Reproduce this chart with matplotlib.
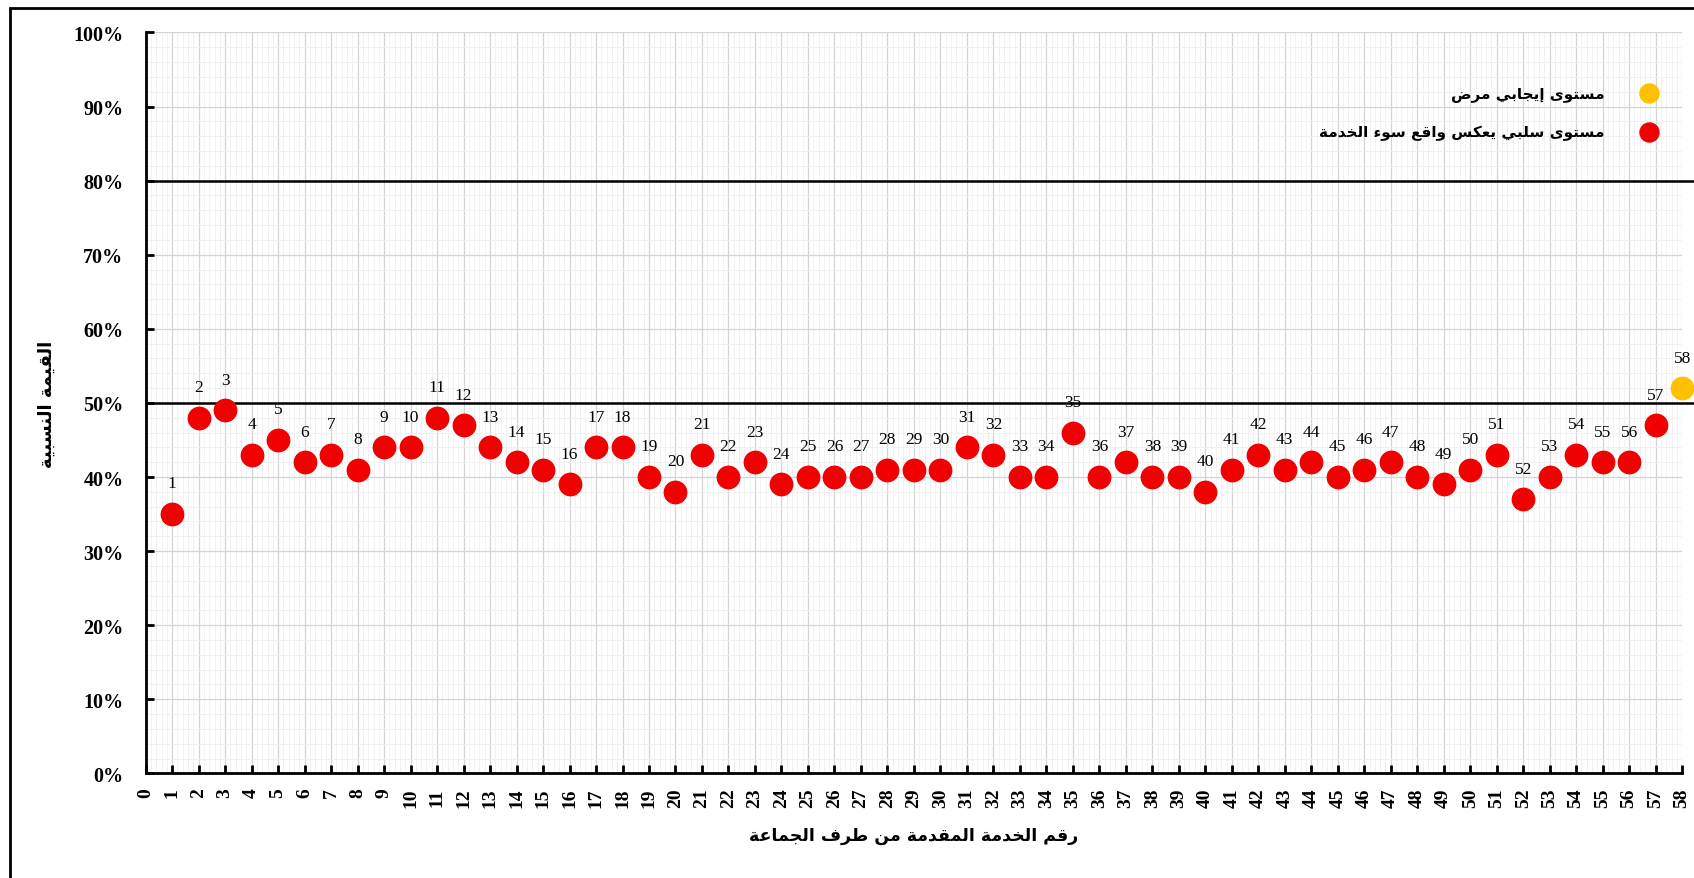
import numpy as np
import matplotlib.pyplot as plt
from matplotlib.ticker import MultipleLocator, PercentFormatter
from matplotlib.patches import Rectangle

# Data
services = list(range(1, 59))
values = [35, 48, 49, 43, 45, 42, 43, 41, 44, 44,
          48, 47, 44, 42, 41, 39, 44, 44, 40, 38,
          43, 40, 42, 39, 40, 40, 40, 41, 41, 41,
          44, 43, 40, 40, 46, 40, 42, 40, 40, 38,
          41, 43, 41, 42, 40, 41, 42, 40, 39, 41,
          43, 37, 40, 43, 42, 42, 47, 52]
positive_ids = [58]
ref_lines = [50, 80]

label_pos = "مستوى إيجابي مرض"
label_neg = "مستوى سلبي يعكس واقع سوء الخدمة"
ylabel = "القيمة النسبية"
xlabel = "رقم الخدمة المقدمة من طرف الجماعة"

# matplotlib has no Arabic shaping: map letters to presentation forms by hand
# (isolated, final, initial, medial); right-joining letters have only 2 forms
FORMS = {
    'ء': ('\uFE80',), 'إ': ('\uFE87', '\uFE88'), 'ا': ('\uFE8D', '\uFE8E'),
    'ب': ('\uFE8F', '\uFE90', '\uFE91', '\uFE92'), 'ة': ('\uFE93', '\uFE94'),
    'ت': ('\uFE95', '\uFE96', '\uFE97', '\uFE98'),
    'ج': ('\uFE9D', '\uFE9E', '\uFE9F', '\uFEA0'),
    'خ': ('\uFEA5', '\uFEA6', '\uFEA7', '\uFEA8'), 'د': ('\uFEA9', '\uFEAA'),
    'ر': ('\uFEAD', '\uFEAE'), 'س': ('\uFEB1', '\uFEB2', '\uFEB3', '\uFEB4'),
    'ض': ('\uFEBD', '\uFEBE', '\uFEBF', '\uFEC0'),
    'ط': ('\uFEC1', '\uFEC2', '\uFEC3', '\uFEC4'),
    'ع': ('\uFEC9', '\uFECA', '\uFECB', '\uFECC'),
    'ف': ('\uFED1', '\uFED2', '\uFED3', '\uFED4'),
    'ق': ('\uFED5', '\uFED6', '\uFED7', '\uFED8'),
    'ك': ('\uFED9', '\uFEDA', '\uFEDB', '\uFEDC'),
    'ل': ('\uFEDD', '\uFEDE', '\uFEDF', '\uFEE0'),
    'م': ('\uFEE1', '\uFEE2', '\uFEE3', '\uFEE4'),
    'ن': ('\uFEE5', '\uFEE6', '\uFEE7', '\uFEE8'),
    'و': ('\uFEED', '\uFEEE'), 'ى': ('\uFEEF', '\uFEF0'),
    'ي': ('\uFEF1', '\uFEF2', '\uFEF3', '\uFEF4'),
}


def shape(text):
    out = []
    for i, ch in enumerate(text):
        if ch not in FORMS:
            out.append(ch)
            continue
        prev = text[i - 1] if i > 0 else ''
        nxt = text[i + 1] if i + 1 < len(text) else ''
        join_prev = prev in FORMS and len(FORMS[prev]) == 4
        join_next = len(FORMS[ch]) == 4 and nxt in FORMS
        f = FORMS[ch]
        if join_prev and join_next:
            out.append(f[3])
        elif join_prev and len(f) > 1:
            out.append(f[1])
        elif join_next:
            out.append(f[2])
        else:
            out.append(f[0])
    return ''.join(out)[::-1]


ar_font = dict(family='DejaVu Sans', fontweight='bold')
num_font = dict(family='Liberation Serif')

fig = plt.figure(figsize=(16.94, 8.79), dpi=100)
ax = fig.add_axes([0.086, 0.119, 0.907, 0.843])

# outer frame
fig.patches.append(Rectangle((0.006, -0.01), 1.0, 1.0, transform=fig.transFigure,
                             fill=False, edgecolor='black', linewidth=2))

# grid
ax.set_xlim(0, 58)
ax.set_ylim(0, 100)
ax.xaxis.set_major_locator(MultipleLocator(1))
ax.xaxis.set_minor_locator(MultipleLocator(0.2))
ax.yaxis.set_major_locator(MultipleLocator(10))
ax.yaxis.set_minor_locator(MultipleLocator(2))
ax.grid(which='major', color='#d4d4d4', linewidth=0.9)
ax.grid(which='minor', color='#efefef', linewidth=0.6)
ax.set_axisbelow(True)

for y in ref_lines:
    ax.plot([0, 58.5], [y, y], color='black', linewidth=1.8, zorder=2, clip_on=False)

vals = np.array(values)
ids = np.array(services)
pos = np.isin(ids, positive_ids)

ax.scatter(ids[pos], vals[pos], s=260, color='#FFC000', zorder=3, clip_on=False,
           label=shape(label_pos))
ax.scatter(ids[~pos], vals[~pos], s=260, color='#F00000', zorder=3, clip_on=False,
           label=shape(label_neg))

for i, v in zip(ids, vals):
    ax.annotate(str(i), (i, v), xytext=(0, 22), textcoords='offset points',
                ha='center', va='center', fontsize=12.5, **num_font)

# axes styling
for side in ['top', 'right']:
    ax.spines[side].set_visible(False)
for side in ['left', 'bottom']:
    ax.spines[side].set_linewidth(2)
ax.tick_params(which='major', direction='in', length=6, width=2)
ax.tick_params(which='minor', length=0)
ax.yaxis.set_major_formatter(PercentFormatter(decimals=0))
plt.setp(ax.get_yticklabels(), fontsize=14.5, fontweight='bold', family='Liberation Serif')
plt.setp(ax.get_xticklabels(), fontsize=14, fontweight='bold', family='Liberation Serif',
         rotation=90)
ax.tick_params(axis='y', pad=16)
ax.tick_params(axis='x', pad=10)

ax.set_ylabel(shape(ylabel), fontsize=13, labelpad=13, **ar_font)
ax.set_xlabel(shape(xlabel), fontsize=12.5, labelpad=14, **ar_font)

ax.legend(loc='upper right', bbox_to_anchor=(0.997, 0.948), markerfirst=False,
          frameon=False, prop=dict(family='DejaVu Sans', weight='bold', size=11),
          handletextpad=1.9, labelspacing=1.55, markerscale=0.85)

fig.savefig('out.png', dpi=100)
